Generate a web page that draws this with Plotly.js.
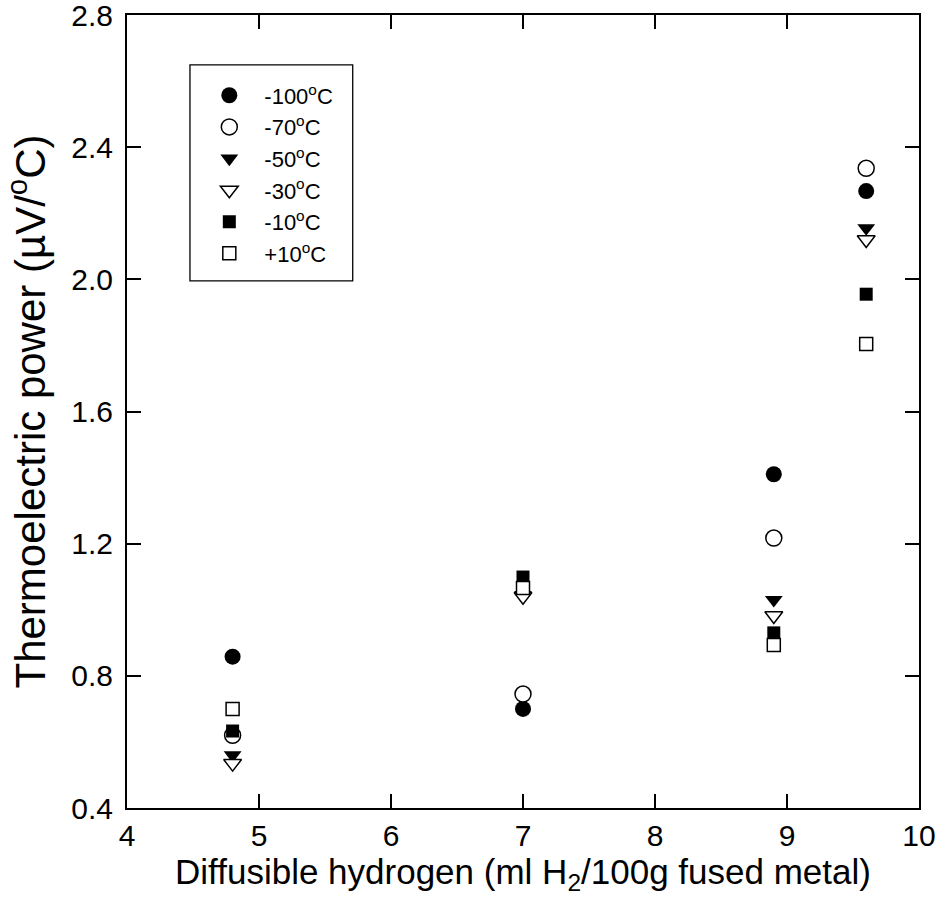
<!DOCTYPE html>
<html>
<head>
<meta charset="utf-8">
<script src="https://cdn.plot.ly/plotly-3.0.1.min.js"></script>
<style>html,body{margin:0;padding:0;background:#fff;}#chart{width:939px;height:922px;}</style>
</head>
<body>
<div id="chart"></div>
<script>
// Diffusible hydrogen (x) positions
const hydrogen = [4.8, 7.0, 8.9, 9.6];

// Thermoelectric power (µV/°C) per test temperature
const tm100 = [0.858, 0.700, 1.410, 2.267];
const tm70  = [0.620, 0.745, 1.217, 2.336];
const tm50  = [0.560, 1.045, 1.030, 2.155];
const tm30  = [0.535, 1.040, 0.982, 2.120];
const tm10  = [0.633, 1.099, 0.930, 1.955];
const tp10  = [0.700, 1.066, 0.893, 1.804];

const seriesNames = ['-100<sup>o</sup>C', '-70<sup>o</sup>C', '-50<sup>o</sup>C', '-30<sup>o</sup>C', '-10<sup>o</sup>C', '+10<sup>o</sup>C'];
const seriesValues = [tm100, tm70, tm50, tm30, tm10, tp10];
const seriesSymbols = ['circle', 'circle-open', 'triangle-down', 'triangle-down-open', 'square', 'square-open'];
const seriesSizes = [16, 16, 15.5, 15.5, 13, 13];

const xTicks = [4, 5, 6, 7, 8, 9, 10];
const yTicks = [0.4, 0.8, 1.2, 1.6, 2.0, 2.4, 2.8];

const FONT = 'Liberation Sans, Arial, Helvetica, sans-serif';

const traces = seriesValues.map((vals, i) => {
  const open = seriesSymbols[i].indexOf('open') >= 0;
  return {
    type: 'scatter',
    mode: 'markers',
    x: hydrogen,
    y: vals,
    name: seriesNames[i],
    legendgroup: 'g' + i,
    marker: {
      symbol: open ? seriesSymbols[i].replace('-open', '') : seriesSymbols[i],
      size: seriesSizes[i],
      color: open ? '#ffffff' : '#000000',
      line: {color: '#000000', width: open ? 1.5 : 0}
    },
    cliponaxis: false
  };
});

const axisCommon = {
  showline: true,
  linecolor: '#000',
  linewidth: 2,
  mirror: 'ticks',
  ticks: 'inside',
  ticklen: 14,
  tickwidth: 2,
  tickcolor: '#000',
  showgrid: false,
  zeroline: false,
  ticklabeloverflow: 'allow',
  tickfont: {family: FONT, size: 30, color: '#000'}
};

const layout = {
  width: 939,
  height: 922,
  margin: {l: 127, r: 20, t: 15, b: 114},
  paper_bgcolor: '#fff',
  plot_bgcolor: '#fff',
  font: {family: FONT, color: '#000'},
  xaxis: Object.assign({}, axisCommon, {
    range: [4, 10],
    tickvals: xTicks,
    ticktext: xTicks.map(String),
    ticklabelstandoff: 0,
    title: {text: 'Diffusible hydrogen (ml H<sub>2</sub>/100g fused metal)', font: {family: FONT, size: 35, color: '#000'}, standoff: 7}
  }),
  yaxis: Object.assign({}, axisCommon, {
    range: [0.4, 2.8],
    tickvals: yTicks,
    ticktext: yTicks.map(v => v.toFixed(1)),
    ticklabelstandoff: 6,
    title: {text: 'Thermoelectric power (\u00b5V/<sup>o</sup>C)', font: {family: FONT, size: 42, color: '#000'}, standoff: 15}
  }),
  showlegend: true,
  legend: {
    x: 0.085, y: 0.925, xanchor: 'left', yanchor: 'top',
    bgcolor: 'rgba(0,0,0,0)',
    borderwidth: 0,
    font: {family: FONT, size: 22, color: '#000'},
    itemwidth: 60,
    tracegroupgap: 0
  },
  shapes: [{
    type: 'rect', xref: 'paper', yref: 'paper',
    x0: 0.0795, x1: 0.285, y0: 0.6646, y1: 0.937,
    line: {color: '#000', width: 1.3},
    fillcolor: 'rgba(0,0,0,0)',
    layer: 'below'
  }]
};

Plotly.newPlot('chart', traces, layout, {displayModeBar: false, staticPlot: true});
</script>
</body>
</html>
